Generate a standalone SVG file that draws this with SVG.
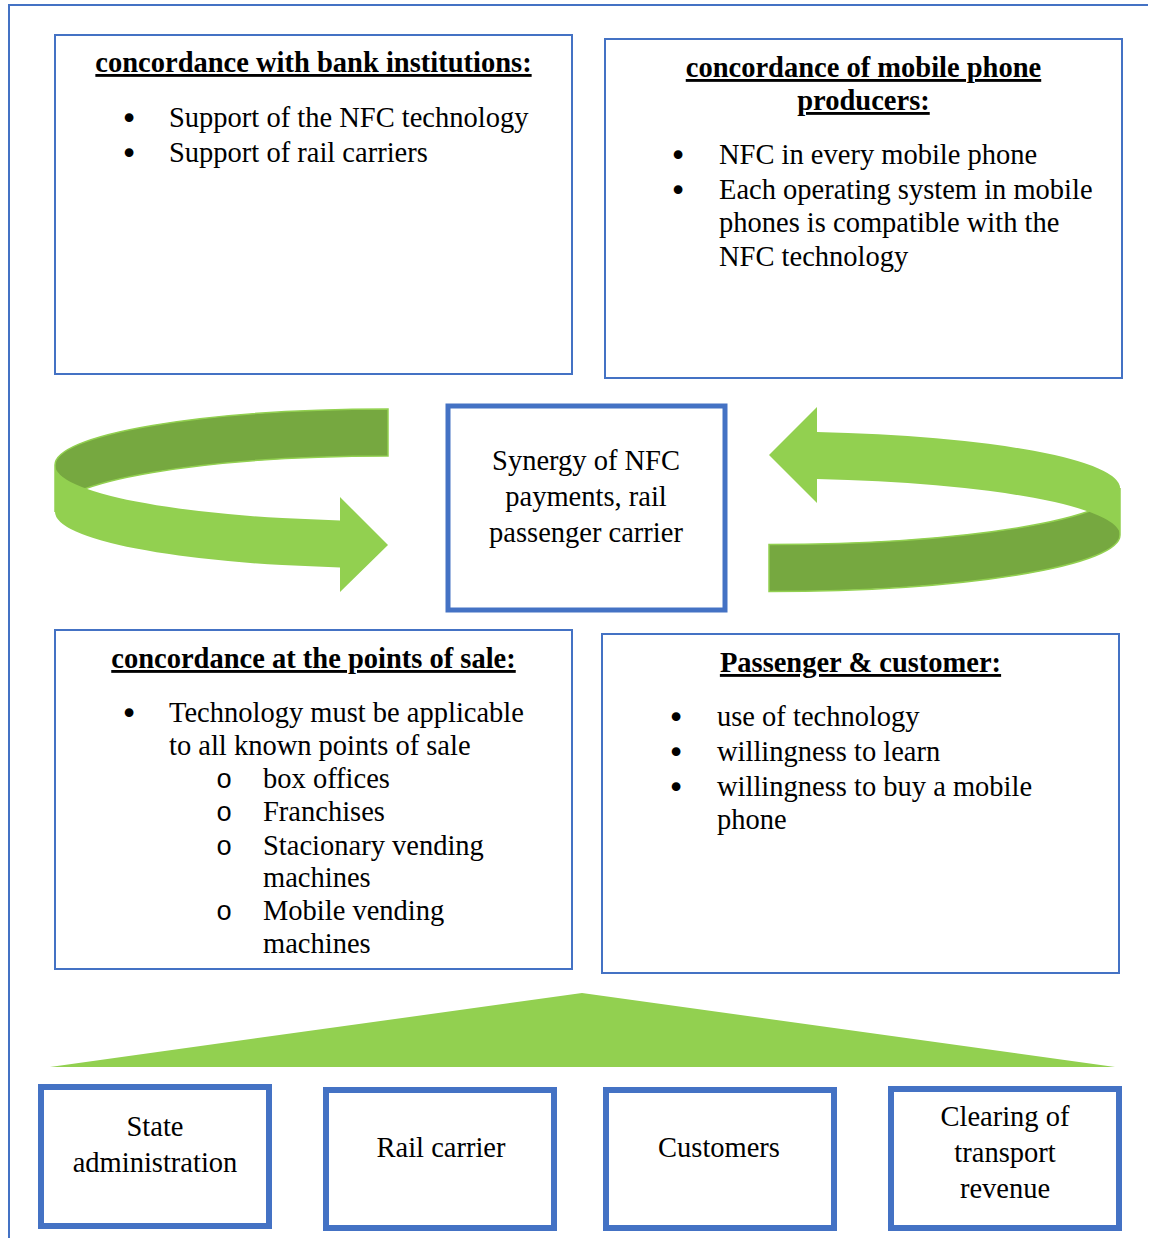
<svg xmlns="http://www.w3.org/2000/svg" width="1151" height="1238" viewBox="0 0 1151 1238">
<style>
.box{fill:#fff;stroke:#4472C4;stroke-width:2}
.cbox{fill:#fff;stroke:#4472C4;stroke-width:5}
.bbox{fill:#fff;stroke:#4472C4;stroke-width:6}
text{font-family:"Liberation Serif","Times New Roman",serif;font-size:28.5px;fill:#000}
.h{font-weight:bold;text-decoration:underline;text-anchor:middle}
.c{text-anchor:middle}
.b{text-anchor:middle;font-family:"DejaVu Sans",sans-serif;font-size:30px}
.o{text-anchor:middle;font-family:"Liberation Mono","Courier New",monospace;font-size:27px}
.light{fill:#92D050}
.dark{fill:#76A840;stroke:#92D050;stroke-width:1.5}
</style>
<rect width="1151" height="1238" fill="#fff"/>
<path d="M9,1240 V5 H1148" fill="none" stroke="#4472C4" stroke-width="2"/>

<g id="bank">
<rect class="box" x="55" y="35" width="517" height="339"/>
<text class="h" x="313.5" y="72">concordance with bank institutions:</text>
<text class="b" x="129" y="129">•</text><text x="169" y="127">Support of the NFC technology</text>
<text class="b" x="129" y="164">•</text><text x="169" y="162">Support of rail carriers</text>
</g>

<g id="mobile">
<rect class="box" x="605" y="39" width="517" height="339"/>
<text class="h" x="863.5" y="77">concordance of mobile phone</text>
<text class="h" x="863.5" y="110">producers:</text>
<text class="b" x="678" y="166">•</text><text x="719" y="164">NFC in every mobile phone</text>
<text class="b" x="678" y="201">•</text><text x="719" y="199">Each operating system in mobile</text>
<text x="719" y="232">phones is compatible with the</text>
<text x="719" y="266">NFC technology</text>
</g>

<g id="connectors">
<path class="dark" d="M388,409 A333,56 0 0 0 55,465 L55,512 A333,56 0 0 1 388,456 Z"/>
<path class="light" d="M55,465 A333,56 0 0 0 340,520.4 L340,497 L388,545 L340,592 L340,567.4 A333,56 0 0 1 55,512 Z"/>
<path class="dark" d="M769,544.5 A351,56.5 0 0 0 1120,488 L1120,535 A351,56.5 0 0 1 769,591.5 Z"/>
<path class="light" d="M817,432 A351,56.5 0 0 1 1120,488 L1120,535 A351,56.5 0 0 0 817,479 L817,503 L769,455 L817,407 Z"/>
<polygon class="light" points="50,1067 582,993 1115,1067"/>
</g>

<g id="synergy">
<rect class="cbox" x="448" y="406" width="277" height="204"/>
<text class="c" x="586" y="470">Synergy of NFC</text>
<text class="c" x="586" y="506">payments, rail</text>
<text class="c" x="586" y="542">passenger carrier</text>
</g>

<g id="pos">
<rect class="box" x="55" y="630" width="517" height="339"/>
<text class="h" x="313.5" y="668">concordance at the points of sale:</text>
<text class="b" x="129" y="724">•</text><text x="169" y="722">Technology must be applicable</text>
<text x="169" y="755">to all known points of sale</text>
<text class="o" x="224" y="788">o</text><text x="263" y="788">box offices</text>
<text class="o" x="224" y="821">o</text><text x="263" y="821">Franchises</text>
<text class="o" x="224" y="855">o</text><text x="263" y="855">Stacionary vending</text>
<text x="263" y="887">machines</text>
<text class="o" x="224" y="920">o</text><text x="263" y="920">Mobile vending</text>
<text x="263" y="953">machines</text>
</g>

<g id="passenger">
<rect class="box" x="602" y="634" width="517" height="339"/>
<text class="h" x="860.5" y="672">Passenger &amp; customer:</text>
<text class="b" x="676" y="728">•</text><text x="717" y="726">use of technology</text>
<text class="b" x="676" y="763">•</text><text x="717" y="761">willingness to learn</text>
<text class="b" x="676" y="798">•</text><text x="717" y="796">willingness to buy a mobile</text>
<text x="717" y="829">phone</text>
</g>

<g id="state">
<rect class="bbox" x="41" y="1087" width="228" height="139"/>
<text class="c" x="155" y="1136">State</text>
<text class="c" x="155" y="1172">administration</text>
</g>
<g id="rail">
<rect class="bbox" x="326" y="1090" width="228" height="138"/>
<text class="c" x="441" y="1157">Rail carrier</text>
</g>
<g id="customers">
<rect class="bbox" x="606" y="1090" width="228" height="138"/>
<text class="c" x="719" y="1157">Customers</text>
</g>
<g id="clearing">
<rect class="bbox" x="891" y="1089" width="228" height="139"/>
<text class="c" x="1005" y="1126">Clearing of</text>
<text class="c" x="1005" y="1162">transport</text>
<text class="c" x="1005" y="1198">revenue</text>
</g>
</svg>
